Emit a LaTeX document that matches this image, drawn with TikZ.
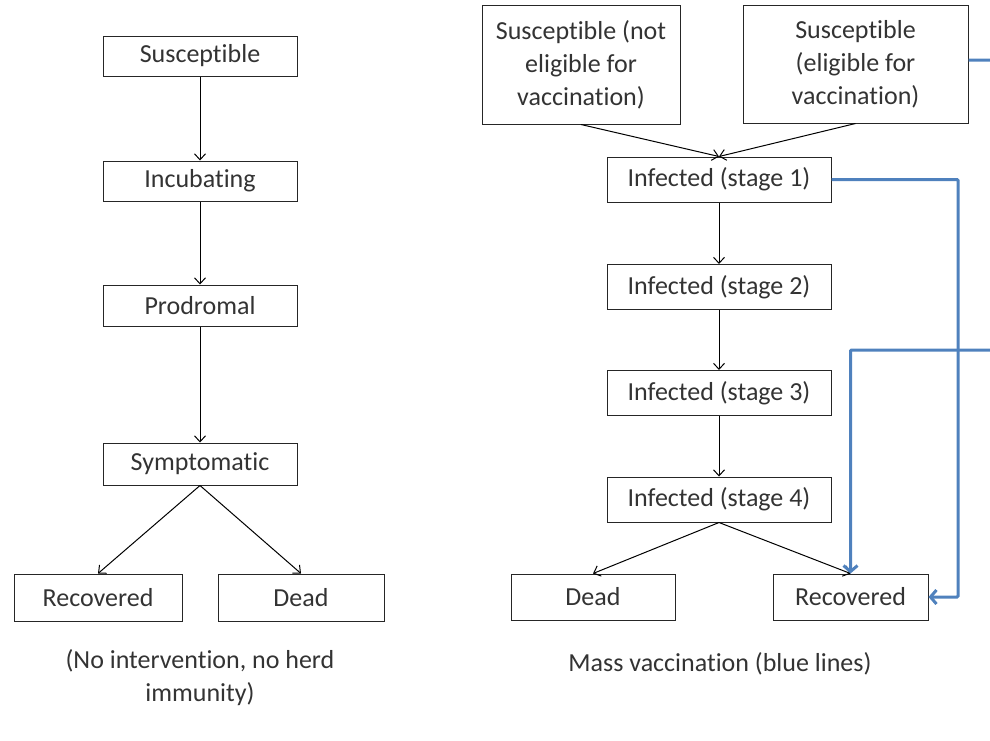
\documentclass[tikz,border=0pt]{standalone}
\usepackage{fontspec}
\setmainfont{Carlito}[Ligatures={NoCommon}]
\usepackage{xcolor}
\usetikzlibrary{positioning, arrows.meta}
\definecolor{vaccblue}{RGB}{79,129,189}

\begin{document}
\begin{tikzpicture}[x=1pt, y=-1pt, line width=1pt, >={Straight Barb[length=6pt,width=11pt]},
	every node/.style = {font=\fontsize{26}{33}\selectfont, text=black!80},
	main/.style = {draw=black!85, rectangle, inner sep=0pt, align=center},
	vacc/.style = {draw=vaccblue, line width=3pt, rounded corners=1pt, -{Straight Barb[length=6pt,width=14pt,line width=3pt]}}]
		\clip (0,0) rectangle (990,740);

		\node[main, minimum width=194, minimum height=40] (susc) at (200,56) {Susceptible};
		\node[main, minimum width=194, minimum height=40] (incu) at (200,181) {Incubating};
		\node[main, minimum width=194, minimum height=41] (prod) at (200,305.5) {Prodromal};
		\node[main, minimum width=194, minimum height=42] (symp) at (200,464) {Symptomatic};
		\node[main, minimum width=168, minimum height=47] (recl) at (98,597.5) {Recovered};
		\node[main, minimum width=166, minimum height=47] (deal) at (301,597.5) {Dead};

		\node[main, minimum width=198, minimum height=119] (noel) at (581,64.5) {Susceptible (not\\eligible for\\vaccination)};
		\node[main, minimum width=225, minimum height=118] (elig) at (855.5,64) {Susceptible\\(eligible for\\vaccination)};
		\node[main, minimum width=224, minimum height=45] (inf1) at (719,179.5) {Infected (stage 1)};
		\node[main, minimum width=224, minimum height=45] (inf2) at (719,287) {Infected (stage 2)};
		\node[main, minimum width=224, minimum height=45] (inf3) at (719,393) {Infected (stage 3)};
		\node[main, minimum width=224, minimum height=45] (inf4) at (719,499.5) {Infected (stage 4)};
		\node[main, minimum width=164, minimum height=46] (dear) at (593,597) {Dead};
		\node[main, minimum width=155, minimum height=46] (recr) at (850.5,597) {Recovered};

		\node[align=center] (capl) at (200,678) {(No intervention, no herd\\immunity)};
		\node (capr) at (720,664) {Mass vaccination (blue lines)};

		\draw[->] (susc) -- (incu);
		\draw[->] (incu) -- (prod);
		\draw[->] (prod) -- (symp);
		\draw[->] (symp.south) -- (recl.north);
		\draw[->] (symp.south) -- (deal.north);

		\draw[->] (noel.south) -- (inf1.north);
		\draw[->] (elig.south) -- (inf1.north);
		\draw[->] (inf1) -- (inf2);
		\draw[->] (inf2) -- (inf3);
		\draw[->] (inf3) -- (inf4);
		\draw[->] (inf4.south) -- (dear.north);
		\draw[->] (inf4.south) -- (recr.north);

		\draw[vacc] (inf1.east) -- (958,179.5) |- (recr.east);
		\draw[vacc] ([yshift=4]elig.east) -- ++(60,0) |- (850.5,350) -- (recr.north);

	\end{tikzpicture}
\end{document}
